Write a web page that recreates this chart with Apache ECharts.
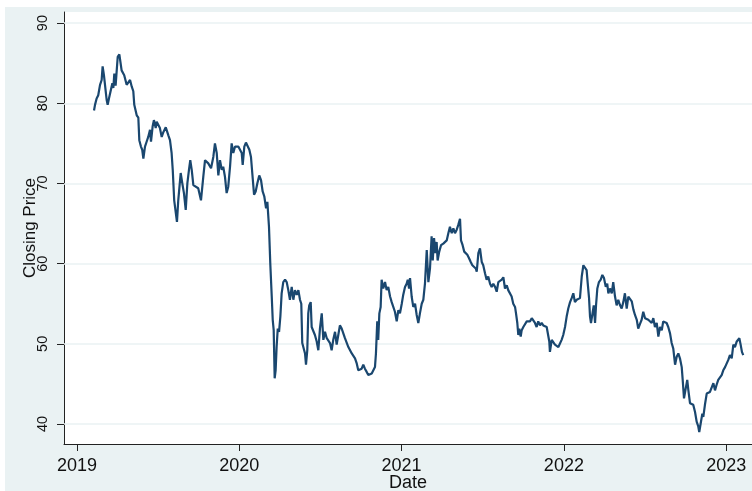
<!DOCTYPE html>
<html lang="en">
<head>
    <meta charset="utf-8"/>
    <title>Closing Price</title>
    <script src="https://cdn.jsdelivr.net/npm/echarts@6/dist/echarts.min.js"></script>
    <style>
        body { margin: 0; background: #fff; }
        #chart { position: absolute; left: 5px; top: 7px; width: 747px; height: 484px; }
    </style>
</head>
<body>
    <div id="chart"></div>
    <script>
        // date as decimal year, closing price
        const dates = [
            2019.105, 2019.111, 2019.121, 2019.131, 2019.142, 2019.152, 2019.158, 2019.166, 2019.173, 2019.183,
            2019.189, 2019.197, 2019.209, 2019.218, 2019.224, 2019.230, 2019.238, 2019.251, 2019.261, 2019.269,
            2019.275, 2019.291, 2019.306, 2019.316, 2019.327, 2019.337, 2019.347, 2019.353, 2019.368, 2019.378,
            2019.384, 2019.394, 2019.402, 2019.409, 2019.419, 2019.429, 2019.439, 2019.450, 2019.456, 2019.466,
            2019.474, 2019.485, 2019.491, 2019.501, 2019.511, 2019.522, 2019.532, 2019.547, 2019.563, 2019.573,
            2019.583, 2019.590, 2019.599, 2019.608, 2019.616, 2019.624, 2019.639, 2019.649, 2019.659, 2019.670,
            2019.680, 2019.690, 2019.698, 2019.707, 2019.717, 2019.727, 2019.747, 2019.764, 2019.778, 2019.789,
            2019.799, 2019.809, 2019.826, 2019.840, 2019.850, 2019.861, 2019.871, 2019.881, 2019.892, 2019.901,
            2019.912, 2019.922, 2019.932, 2019.943, 2019.953, 2019.963, 2019.974, 2019.984, 2019.994, 2020.004,
            2020.015, 2020.021, 2020.031, 2020.041, 2020.052, 2020.062, 2020.072, 2020.080, 2020.091, 2020.101,
            2020.111, 2020.123, 2020.134, 2020.144, 2020.154, 2020.165, 2020.173, 2020.183, 2020.191, 2020.200,
            2020.206, 2020.212, 2020.218, 2020.224, 2020.230, 2020.237, 2020.245, 2020.253, 2020.261, 2020.271,
            2020.282, 2020.292, 2020.302, 2020.312, 2020.323, 2020.333, 2020.343, 2020.354, 2020.364, 2020.374,
            2020.382, 2020.388, 2020.394, 2020.405, 2020.411, 2020.419, 2020.425, 2020.431, 2020.440, 2020.446,
            2020.456, 2020.466, 2020.477, 2020.487, 2020.497, 2020.508, 2020.518, 2020.528, 2020.539, 2020.548,
            2020.559, 2020.569, 2020.579, 2020.590, 2020.600, 2020.610, 2020.620, 2020.631, 2020.641, 2020.651,
            2020.662, 2020.672, 2020.682, 2020.693, 2020.702, 2020.713, 2020.723, 2020.733, 2020.744, 2020.754,
            2020.764, 2020.774, 2020.785, 2020.795, 2020.805, 2020.816, 2020.826, 2020.836, 2020.842, 2020.850,
            2020.856, 2020.863, 2020.871, 2020.877, 2020.887, 2020.898, 2020.908, 2020.918, 2020.929, 2020.939,
            2020.949, 2020.959, 2020.970, 2020.980, 2020.990, 2021.001, 2021.010, 2021.021, 2021.031, 2021.038,
            2021.046, 2021.052, 2021.062, 2021.072, 2021.083, 2021.093, 2021.103, 2021.113, 2021.124, 2021.134,
            2021.144, 2021.155, 2021.165, 2021.175, 2021.185, 2021.192, 2021.200, 2021.208, 2021.216, 2021.222,
            2021.232, 2021.243, 2021.257, 2021.267, 2021.278, 2021.288, 2021.298, 2021.309, 2021.319, 2021.329,
            2021.339, 2021.349, 2021.360, 2021.366, 2021.376, 2021.386, 2021.397, 2021.405, 2021.415, 2021.426,
            2021.436, 2021.446, 2021.457, 2021.463, 2021.473, 2021.483, 2021.494, 2021.503, 2021.514, 2021.524,
            2021.534, 2021.545, 2021.555, 2021.565, 2021.576, 2021.586, 2021.596, 2021.606, 2021.617, 2021.627,
            2021.637, 2021.648, 2021.657, 2021.668, 2021.678, 2021.688, 2021.699, 2021.705, 2021.713, 2021.719,
            2021.725, 2021.734, 2021.740, 2021.750, 2021.760, 2021.771, 2021.781, 2021.791, 2021.802, 2021.811,
            2021.822, 2021.832, 2021.842, 2021.853, 2021.863, 2021.873, 2021.884, 2021.894, 2021.904, 2021.910,
            2021.914, 2021.925, 2021.935, 2021.945, 2021.956, 2021.966, 2021.976, 2021.986, 2021.996, 2022.007,
            2022.017, 2022.027, 2022.038, 2022.048, 2022.058, 2022.068, 2022.079, 2022.089, 2022.099, 2022.110,
            2022.120, 2022.130, 2022.140, 2022.147, 2022.155, 2022.161, 2022.167, 2022.177, 2022.184, 2022.192,
            2022.198, 2022.206, 2022.216, 2022.227, 2022.237, 2022.247, 2022.258, 2022.267, 2022.274, 2022.284,
            2022.295, 2022.304, 2022.315, 2022.325, 2022.335, 2022.346, 2022.356, 2022.366, 2022.376, 2022.387,
            2022.397, 2022.407, 2022.418, 2022.428, 2022.438, 2022.449, 2022.458, 2022.469, 2022.479, 2022.489,
            2022.500, 2022.510, 2022.520, 2022.531, 2022.541, 2022.551, 2022.561, 2022.572, 2022.582, 2022.592,
            2022.603, 2022.612, 2022.623, 2022.633, 2022.643, 2022.654, 2022.664, 2022.674, 2022.685, 2022.695,
            2022.705, 2022.715, 2022.726, 2022.732, 2022.740, 2022.750, 2022.760, 2022.767, 2022.777, 2022.787,
            2022.797, 2022.808, 2022.818, 2022.828, 2022.834, 2022.843, 2022.853, 2022.859, 2022.869, 2022.880,
            2022.890, 2022.900, 2022.911, 2022.921, 2022.931, 2022.941, 2022.951, 2022.962, 2022.972, 2022.982,
            2022.993, 2023.003, 2023.013, 2023.023, 2023.034, 2023.044, 2023.054, 2023.065, 2023.075, 2023.081,
            2023.089, 2023.097, 2023.105
        ];
        const closes = [
            79.1, 79.8, 80.6, 81.0, 82.3, 82.9, 84.6, 83.5, 83.3, 80.4,
            79.8, 80.6, 80.8, 82.5, 81.9, 83.7, 82.2, 85.8, 86.1, 86.0,
            84.1, 83.5, 82.3, 82.1, 82.9, 82.1, 81.5, 79.8, 78.5, 78.2,
            75.4, 74.6, 74.2, 73.1, 74.6, 75.2, 75.8, 76.7, 75.2, 77.1,
            77.9, 76.9, 77.7, 77.5, 76.9, 75.8, 76.4, 77.0, 76.0, 75.4,
            73.8, 71.7, 67.9, 67.7, 65.2, 67.9, 71.3, 70.0, 68.8, 66.7,
            70.0, 71.7, 72.9, 71.7, 69.8, 69.6, 69.4, 67.9, 70.8, 72.9,
            73.1, 72.5, 71.9, 73.3, 75.0, 73.8, 71.0, 72.9, 71.7, 72.1,
            70.8, 68.8, 69.6, 72.1, 75.0, 73.8, 74.6, 74.8, 74.6, 74.8,
            73.8, 72.3, 74.6, 75.1, 75.2, 74.2, 73.3, 71.3, 68.6, 69.0,
            70.0, 71.0, 70.4, 69.0, 68.4, 66.9, 67.7, 64.6, 60.0, 55.9,
            53.0, 51.7, 45.7, 46.7, 49.6, 51.9, 51.5, 53.4, 56.3, 57.7,
            58.0, 57.7, 56.7, 55.5, 57.1, 55.5, 56.7, 56.1, 56.7, 55.5,
            55.0, 50.1, 50.3, 48.8, 47.4, 49.2, 53.8, 54.8, 55.2, 52.1,
            51.9, 51.1, 50.3, 49.2, 51.9, 53.8, 50.5, 51.5, 50.7, 50.9,
            50.1, 49.2, 50.5, 51.5, 49.9, 51.1, 52.3, 51.9, 51.9, 50.7,
            50.5, 49.6, 49.4, 48.8, 48.8, 48.2, 47.6, 46.7, 46.7, 46.9,
            47.4, 46.9, 46.5, 46.1, 46.3, 46.3, 46.7, 47.1, 48.8, 52.8,
            50.5, 53.8, 54.6, 58.0, 56.9, 57.7, 56.7, 57.1, 55.9, 55.2,
            55.0, 54.0, 52.8, 54.2, 53.8, 55.0, 56.1, 57.1, 57.5, 58.0,
            56.9, 58.2, 55.9, 54.6, 55.0, 53.6, 52.6, 53.8, 55.0, 55.5,
            57.5, 61.7, 57.7, 59.4, 63.4, 60.4, 63.2, 61.3, 62.7, 60.4,
            61.5, 62.3, 62.5, 62.3, 62.9, 63.8, 64.6, 63.8, 64.4, 63.8,
            64.2, 64.8, 65.6, 62.9, 62.3, 61.5, 61.5, 61.1, 60.7, 60.2,
            59.8, 59.6, 59.4, 59.0, 61.3, 61.9, 60.2, 59.8, 58.8, 58.0,
            58.4, 57.5, 57.1, 57.5, 57.1, 56.5, 57.7, 57.5, 58.0, 58.3,
            56.9, 57.3, 56.7, 56.9, 55.9, 55.0, 54.6, 53.8, 52.6, 51.1,
            51.9, 50.9, 51.7, 52.1, 52.3, 52.8, 53.0, 52.8, 53.2, 53.0,
            52.6, 52.1, 52.8, 52.3, 52.6, 52.3, 52.3, 52.1, 51.9, 50.3,
            49.0, 50.5, 50.7, 49.9, 49.9, 49.6, 49.4, 50.5, 51.1, 52.1,
            53.4, 54.4, 55.2, 55.7, 56.3, 55.2, 55.5, 55.5, 55.7, 58.4,
            59.8, 60.0, 59.2, 57.5, 55.7, 53.4, 52.6, 52.6, 54.8, 52.6,
            54.8, 56.9, 57.7, 58.0, 58.6, 58.2, 57.1, 57.5, 56.3, 56.9,
            56.3, 57.7, 55.9, 54.8, 55.5, 54.8, 54.4, 55.2, 56.3, 54.4,
            55.9, 55.7, 55.3, 54.3, 53.6, 53.0, 51.9, 52.5, 53.0, 54.0,
            53.2, 53.4, 53.0, 53.2, 52.6, 53.2, 52.1, 52.6, 50.9, 52.1,
            51.7, 52.8, 52.6, 52.6, 52.1, 51.3, 50.1, 49.4, 47.4, 48.4,
            48.8, 48.2, 47.1, 45.5, 43.2, 43.4, 45.5, 44.2, 42.6, 42.4,
            42.4, 41.5, 40.3, 39.7, 39.0, 40.1, 41.3, 40.9, 42.4, 43.8,
            43.6, 44.0, 43.8, 45.1, 44.2, 44.9, 45.5, 45.3, 46.1, 46.7,
            47.1, 46.9, 48.0, 48.6, 48.2, 49.9, 49.6, 50.3, 50.5, 50.7,
            49.9, 49.0, 48.6
        ];
        const yearTicks = [2019, 2020, 2021, 2022, 2023];
        const priceTicks = [40, 50, 60, 70, 80, 90];

        const chart = echarts.init(document.getElementById('chart'));
        const seriesData = dates.map(function (d, i) { return [d, closes[i]]; });
        const axisFont = 'Liberation Sans, Arial, sans-serif';

        const option = {
            backgroundColor: '#eaf2f3',
            animation: false,
            grid: {
                left: 59, right: 0, top: 5, bottom: 47,
                outerBoundsMode: 'none',
                containLabel: false,
                show: true, backgroundColor: '#ffffff', borderWidth: 0
            },
            xAxis: {
                type: 'value',
                min: 2018.92,
                max: 2023.159,
                name: 'Date',
                nameLocation: 'middle',
                nameGap: 30,
                nameMoveOverlap: false,
                nameTextStyle: { fontFamily: axisFont, fontSize: 18, color: '#111' },
                axisLine: { show: true, onZero: false, lineStyle: { color: '#222', width: 1 } },
                axisTick: { show: true, length: 7, customValues: yearTicks, lineStyle: { color: '#222', width: 1 } },
                axisLabel: {
                    customValues: yearTicks,
                    margin: 13,
                    fontFamily: axisFont, fontSize: 18, color: '#111',
                    formatter: function (v) { return String(Math.round(v)); }
                },
                splitLine: { show: false }
            },
            yAxis: {
                type: 'value',
                min: 37.51,
                max: 91.38,
                name: 'Closing Price',
                nameLocation: 'middle',
                nameGap: 25,
                nameMoveOverlap: false,
                nameTextStyle: { fontFamily: axisFont, fontSize: 17, color: '#111' },
                axisLine: { show: true, lineStyle: { color: '#222', width: 1 } },
                axisTick: { show: true, length: 7, customValues: priceTicks, lineStyle: { color: '#222', width: 1 } },
                axisLabel: {
                    customValues: priceTicks,
                    rotate: 90,
                    margin: 14,
                    fontFamily: axisFont, fontSize: 14.5, color: '#111',
                    formatter: function (v) { return String(Math.round(v)); }
                },
                splitLine: { show: false }
            },
            series: [
                {
                    // horizontal grid lines at the labelled prices
                    type: 'line',
                    data: [],
                    z: 1,
                    silent: true,
                    markLine: {
                        silent: true,
                        z: 1,
                        symbol: ['none', 'none'],
                        label: { show: false },
                        lineStyle: { color: '#eaf2f3', width: 1.5, type: 'solid' },
                        data: priceTicks.map(function (p) { return { yAxis: p }; })
                    }
                },
                {
                    type: 'line',
                    name: 'Closing Price',
                    data: seriesData,
                    z: 3,
                    showSymbol: false,
                    lineStyle: { color: '#1a476f', width: 2.2 },
                    itemStyle: { color: '#1a476f' }
                }
            ]
        };
        chart.setOption(option);
    </script>
</body>
</html>
